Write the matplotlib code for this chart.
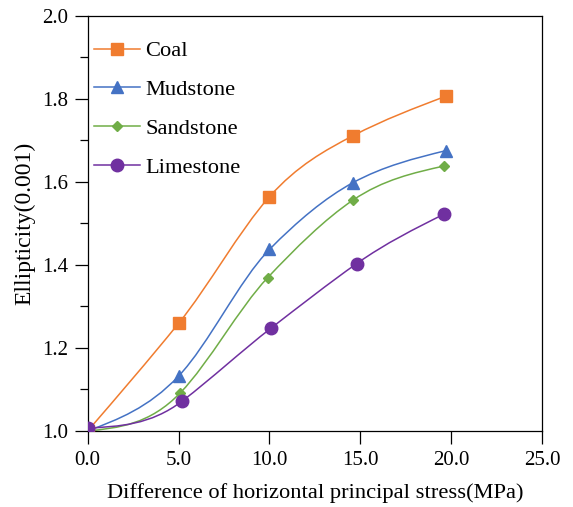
import numpy as np
import matplotlib.pyplot as plt
from matplotlib.path import Path
from matplotlib.patches import PathPatch
from matplotlib.ticker import MultipleLocator, FormatStrFormatter

# Data
x_coal = [0.0, 5.0, 10.0, 14.6, 19.7]
coal = [1.000, 1.259, 1.564, 1.711, 1.806]

x_mud = [0.0, 5.0, 10.0, 14.6, 19.7]
mudstone = [1.000, 1.132, 1.437, 1.598, 1.675]

x_sand = [0.0, 5.1, 9.9, 14.6, 19.6]
sandstone = [1.000, 1.092, 1.369, 1.556, 1.638]

x_lime = [0.0, 5.2, 10.1, 14.8, 19.6]
limestone = [1.007, 1.072, 1.248, 1.403, 1.522]

labels = ["Coal", "Mudstone", "Sandstone", "Limestone"]
colors = ["#F07C2F", "#4472C4", "#70AD47", "#7030A0"]
markers = ["s", "^", "D", "o"]
msizes = [9, 9, 5.5, 9]


def smooth_path(x, y):
    # smooth connection through the data points: Akima tangents inside,
    # natural end condition at both ends, drawn as cubic Bezier segments
    x = np.asarray(x, float)
    y = np.asarray(y, float)
    m = np.diff(y) / np.diff(x)
    me = np.concatenate([[3 * m[0] - 2 * m[1], 2 * m[0] - m[1]], m,
                         [2 * m[-1] - m[-2], 3 * m[-1] - 2 * m[-2]]])
    dm = np.abs(np.diff(me))
    w1, w2 = dm[2:], dm[:-2]
    t = np.where(w1 + w2 > 1e-12, (w1 * me[1:-2] + w2 * me[2:-1]) / (w1 + w2 + 1e-300),
                 0.5 * (me[1:-2] + me[2:-1]))
    t[0] = (3 * m[0] - t[1]) / 2
    t[-1] = (3 * m[-1] - t[-2]) / 2
    verts = [(x[0], y[0])]
    codes = [Path.MOVETO]
    for i in range(len(x) - 1):
        h = x[i + 1] - x[i]
        verts += [(x[i] + h / 3, y[i] + t[i] * h / 3),
                  (x[i + 1] - h / 3, y[i + 1] - t[i + 1] * h / 3),
                  (x[i + 1], y[i + 1])]
        codes += [Path.CURVE4] * 3
    return Path(verts, codes)


plt.rcParams["font.family"] = ["Liberation Serif", "DejaVu Serif"]

fig = plt.figure(figsize=(5.73, 5.07), dpi=100)
ax = fig.add_axes([0.153, 0.150, 0.793, 0.819])

series = [(x_coal, coal), (x_mud, mudstone), (x_sand, sandstone), (x_lime, limestone)]
for (xv, yv), lab, col, mk, ms in zip(series, labels, colors, markers, msizes):
    ax.add_patch(PathPatch(smooth_path(xv, yv), facecolor="none", edgecolor=col,
                           linewidth=1.1, zorder=2))
    ax.plot(xv, yv, linestyle="none", marker=mk, markersize=ms, color=col, zorder=3)
    # legend proxy
    ax.plot([], [], color=col, linewidth=1.1, marker=mk, markersize=ms, label=lab)

ax.set_xlim(0, 25)
ax.set_ylim(1.0, 2.0)
ax.xaxis.set_major_locator(MultipleLocator(5))
ax.yaxis.set_major_locator(MultipleLocator(0.2))
ax.yaxis.set_minor_locator(MultipleLocator(0.1))
ax.xaxis.set_major_formatter(FormatStrFormatter("%.1f"))
ax.yaxis.set_major_formatter(FormatStrFormatter("%.1f"))

ax.tick_params(which="major", direction="out", length=9.5, width=0.9, labelsize=15)
ax.tick_params(which="minor", direction="out", length=5.5, width=0.9)
ax.tick_params(axis="x", pad=5)
ax.tick_params(axis="y", pad=4.5)
for sp in ax.spines.values():
    sp.set_linewidth(0.9)

ax.set_xlabel("Difference of horizontal principal stress(MPa)", fontsize=16.2, labelpad=9.5)
ax.set_ylabel("Ellipticity(0.001)", fontsize=17, labelpad=5)

ax.legend(loc="upper left", frameon=False, fontsize=16.2, handlelength=2.05,
          handletextpad=0.22, labelspacing=0.81, borderaxespad=0, borderpad=0,
          bbox_to_anchor=(0.014, 0.94))

fig.savefig("out.png", dpi=100)
